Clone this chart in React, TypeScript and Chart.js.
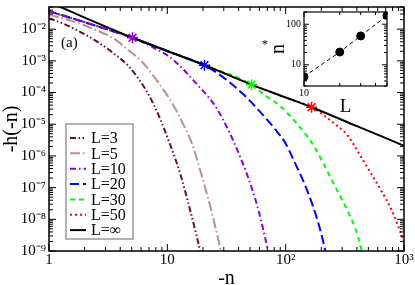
import React, { useEffect, useRef } from "react";
import { Chart, registerables } from "chart.js";

Chart.register(...registerables);

const FONT = "'Liberation Serif', 'Times New Roman', Times, serif";

// ---- main plot ticks ----
const xTickValues = [1, 10, 100, 1000];
const xTickLabels = ["1", "10", "10²", "10³"];
const yTickValues = [1e-9, 1e-8, 1e-7, 1e-6, 1e-5, 1e-4, 1e-3, 1e-2];
const yTickLabels = ["10⁻⁹", "10⁻⁸", "10⁻⁷", "10⁻⁶", "10⁻⁵", "10⁻⁴", "10⁻³", "10⁻²"];

// ---- series (n, h) ----
const seriesLabels = ["L=3", "L=5", "L=10", "L=20", "L=30", "L=50", "L=∞"];

const nL3 = [1, 1.379, 1.776, 2.473, 3.442, 4.7, 5.71, 6.94, 7.64, 8.43, 9.29, 10.44, 12.93, 15.11, 17.31, 18.9, 19.5];
const hL3 = [0.0222, 0.01396, 8.79e-3, 4.33e-3, 1.84e-3, 6.8e-4, 2.7e-4, 8.67e-5, 4.27e-5, 1.95e-5, 8.0e-6, 2.57e-6, 2.55e-7, 3.03e-8, 4.14e-9, 1.0e-9, 5e-10];

const nL5 = [1, 1.776, 2.473, 3.44, 4.84, 5.94, 7.21, 8.76, 11.0, 13.2, 16.0, 19.1, 23.2, 28.2, 29];
const hL5 = [0.0288, 0.0155, 9.44e-3, 5.35e-3, 1.98e-3, 1.04e-3, 4.45e-4, 1.64e-4, 4.6e-5, 1.27e-5, 2.67e-6, 3.2e-7, 2.3e-8, 1.07e-9, 6e-10];

const nL10 = [1, 1.49, 2.243, 3.375, 5.08, 7.21, 11.07, 17.31, 26.06, 33.56, 36.6, 41.6, 47.6, 57.9, 69.6, 71.7];
const hL10 = [0.0365, 0.0233, 0.01445, 8.9e-3, 5.35e-3, 2.92e-3, 1.12e-3, 2.04e-4, 3.21e-5, 5.43e-6, 2.67e-6, 8.55e-7, 2.38e-7, 2.45e-8, 1.43e-9, 8.7e-10];

const nL20 = [1, 1.49, 2.243, 3.375, 5.08, 10, 20.6, 27.1, 43.2, 59.0, 82.1, 99.8, 116.7, 153.1, 186.1, 211.2, 217.4];
const hL20 = [0.0365, 0.0233, 0.01445, 8.9e-3, 5.35e-3, 2.04e-3, 7.2e-4, 3.85e-4, 9.31e-5, 2.78e-5, 6.71e-6, 2.48e-6, 7.41e-7, 7.64e-8, 9.06e-9, 1.53e-9, 9.3e-10];

const nL30 = [1, 1.49, 2.243, 3.375, 5.08, 10, 20.6, 51.5, 63.8, 92.3, 116.7, 141.7, 165.6, 205, 259, 333.6, 390, 429.7, 442.4];
const hL30 = [0.0365, 0.0233, 0.01445, 8.9e-3, 5.35e-3, 2.04e-3, 7.3e-4, 1.76e-4, 9.31e-5, 3.44e-5, 1.37e-5, 5.82e-6, 2.67e-6, 6.44e-7, 1.17e-7, 1.84e-8, 4.78e-9, 1.43e-9, 8.7e-10];

const nL50 = [1, 1.49, 2.243, 3.375, 5.08, 10, 20.6, 51.5, 100, 165.6, 254, 333.6, 429.7, 522, 646.6, 785.7, 883, 1012];
const hL50 = [0.0365, 0.0233, 0.01445, 8.9e-3, 5.35e-3, 2.04e-3, 7.3e-4, 1.77e-4, 6.9e-5, 3.4e-5, 1.1e-5, 4.39e-6, 9.86e-7, 2.94e-7, 7.64e-8, 1.98e-8, 6.8e-9, 1.64e-9];

const nInf = [1, 1.25, 2, 5.08, 10, 20.6, 51.5, 100, 165.6, 400, 1000];
const hInf = [0.072, 0.05, 0.0231, 5.35e-3, 2.04e-3, 7.3e-4, 1.77e-4, 6.98e-5, 3.44e-5, 8.7e-6, 2.1e-6];

// crossover points n* on the L=∞ curve (stars)
const nStar = [5.08, 20.6, 51.5, 165.6];
const hStar = [5.35e-3, 7.3e-4, 1.77e-4, 3.44e-5];

// ---- inset: n* versus L ----
const insetL = [10, 20, 30, 50];
const insetNStar = [5.1, 20.6, 51.5, 163];
const insetXTickValues = [10];
const insetXTickLabels = ["10"];
const insetYTickValues = [10, 100];
const insetYTickLabels = ["10", "100"];

// ---- styles ----
const seriesColors = ["#670748", "#bc8f8f", "#9400d3", "#0000ff", "#00ff00", "#ff0000", "#000000"];
const seriesDashes = [
  [6, 2.5, 1.5, 2.5, 1.5, 2.5],
  [10, 3, 1.5, 3],
  [6, 3, 1.5, 3],
  [9, 4],
  [5, 4],
  [2, 3],
  [],
];
const starColors = ["#9400d3", "#0000ff", "#00ff00", "#ff0000"];

function pts(xs: number[], ys: number[]) {
  return xs.map((x, i) => ({ x, y: ys[i] }));
}

function logMarks(min: number, max: number) {
  const out: { v: number; major: boolean }[] = [];
  const e0 = Math.floor(Math.log10(min));
  const e1 = Math.ceil(Math.log10(max));
  for (let e = e0; e <= e1; e++) {
    for (let m = 1; m < 10; m++) {
      const v = m * Math.pow(10, e);
      if (v >= min * 0.9999 && v <= max * 1.0001) out.push({ v, major: m === 1 });
    }
  }
  return out;
}

const frameTicks = {
  id: "frameTicks",
  afterDraw(chart: any, _args: any, opts: any) {
    const { ctx, chartArea: a, scales } = chart;
    ctx.save();
    ctx.strokeStyle = "#000";
    ctx.lineWidth = 1;
    const seg = (x1: number, y1: number, x2: number, y2: number) => {
      ctx.beginPath();
      ctx.moveTo(x1, y1);
      ctx.lineTo(x2, y2);
      ctx.stroke();
    };
    for (const t of logMarks(scales.x.min, scales.x.max)) {
      const px = scales.x.getPixelForValue(t.v);
      const len = t.major ? opts.major : opts.minor;
      seg(px, a.bottom, px, a.bottom - len);
      if (opts.mirror) seg(px, a.top, px, a.top + len);
    }
    for (const t of logMarks(scales.y.min, scales.y.max)) {
      const py = scales.y.getPixelForValue(t.v);
      const len = t.major ? opts.major : opts.minor;
      seg(a.left, py, a.left + len, py);
      if (opts.mirror) seg(a.right, py, a.right - len, py);
    }
    ctx.lineWidth = opts.frame;
    ctx.strokeRect(a.left, a.top, a.right - a.left, a.bottom - a.top);
    ctx.restore();
  },
};

const legendBox = {
  id: "legendBox",
  afterDraw(chart: any) {
    const ctx = chart.ctx;
    ctx.save();
    ctx.fillStyle = "#fff";
    ctx.fillRect(66, 124, 67, 115);
    ctx.strokeStyle = "#999";
    ctx.lineWidth = 1.5;
    ctx.strokeRect(66, 124, 67, 115);
    chart.data.datasets.slice(0, 7).forEach((ds: any, i: number) => {
      const y = 138 + i * 15.35;
      ctx.strokeStyle = ds.borderColor;
      ctx.lineWidth = ds.borderWidth;
      ctx.setLineDash(ds.borderDash || []);
      ctx.beginPath();
      ctx.moveTo(70, y);
      ctx.lineTo(86, y);
      ctx.stroke();
      ctx.setLineDash([]);
      ctx.fillStyle = "#000";
      ctx.font = `16px ${FONT}`;
      ctx.textBaseline = "middle";
      ctx.textAlign = "left";
      ctx.fillText(ds.label, 91, y + 1);
    });
    ctx.font = `15px ${FONT}`;
    ctx.fillStyle = "#000";
    ctx.textBaseline = "middle";
    ctx.fillText("(a)", 61, 43);
    ctx.restore();
  },
};

const insetStar = {
  id: "insetStar",
  afterDraw(chart: any) {
    const ctx = chart.ctx;
    ctx.save();
    ctx.font = `12px ${FONT}`;
    ctx.fillStyle = "#000";
    ctx.textAlign = "center";
    ctx.textBaseline = "middle";
    ctx.fillText("*", 10, 45);
    ctx.restore();
  },
};

export default function App() {
  const mainRef = useRef<HTMLCanvasElement>(null);
  const insetRef = useRef<HTMLCanvasElement>(null);

  useEffect(() => {
    const lineSets = [nL3, nL5, nL10, nL20, nL30, nL50, nInf].map((ns, i) => ({
      type: "scatter" as const,
      label: seriesLabels[i],
      data: pts(ns, [hL3, hL5, hL10, hL20, hL30, hL50, hInf][i]),
      showLine: true,
      borderColor: seriesColors[i],
      backgroundColor: seriesColors[i],
      borderWidth: 2,
      borderDash: seriesDashes[i],
      pointRadius: 0,
      cubicInterpolationMode: "monotone" as const,
      order: i === 6 ? 1 : 2,
    }));
    const starSet = {
      type: "scatter" as const,
      label: "n*",
      data: pts(nStar, hStar),
      showLine: false,
      pointStyle: "star",
      pointRadius: 5.5,
      pointBorderWidth: 1.5,
      pointBorderColor: starColors,
      pointBackgroundColor: starColors,
      borderColor: starColors,
      order: 0,
    };

    const tickFont = { family: FONT, size: 15 };
    const main = new Chart(mainRef.current!, {
      type: "scatter",
      data: { datasets: [...lineSets, starSet] as any },
      options: {
        animation: false,
        responsive: false,
        layout: { padding: { top: 2, right: 11, left: 0, bottom: 0 } },
        plugins: {
          legend: { display: false },
          tooltip: { enabled: false },
          frameTicks: { major: 7, minor: 4, mirror: true, frame: 1.5 },
        } as any,
        scales: {
          x: {
            type: "logarithmic",
            min: 1,
            max: 1000,
            afterBuildTicks: (s: any) => {
              s.ticks = xTickValues.map((v) => ({ value: v }));
            },
            afterFit: (s: any) => {
              s.height = 34;
              s.paddingLeft = 0;
              s.paddingRight = 0;
            },
            grid: { display: false, drawTicks: false },
            border: { display: false },
            ticks: {
              autoSkip: false,
              maxRotation: 0,
              padding: 0,
              color: "#000",
              font: tickFont,
              callback: (_v: any, i: number) => xTickLabels[i],
            },
            title: {
              display: true,
              text: "-n",
              color: "#000",
              font: { family: FONT, size: 20 },
              padding: { top: 0, bottom: -6 },
            },
          },
          y: {
            type: "logarithmic",
            min: 1e-9,
            max: 0.05,
            afterBuildTicks: (s: any) => {
              s.ticks = yTickValues.map((v) => ({ value: v }));
            },
            afterFit: (s: any) => {
              s.width = 49;
              s.paddingTop = 0;
              s.paddingBottom = 0;
            },
            grid: { display: false, drawTicks: false },
            border: { display: false },
            ticks: {
              autoSkip: false,
              padding: 3,
              color: "#000",
              font: tickFont,
              callback: (_v: any, i: number) => yTickLabels[i],
            },
            title: {
              display: true,
              text: "-h(-n)",
              color: "#000",
              font: { family: FONT, size: 20 },
              padding: { top: 0, bottom: 0 },
            },
          },
        },
      } as any,
      plugins: [frameTicks, legendBox],
    });

    const inset = new Chart(insetRef.current!, {
      type: "scatter",
      data: {
        datasets: [
          {
            label: "n* vs L",
            data: pts(insetL, insetNStar),
            showLine: true,
            borderColor: "#000",
            borderWidth: 1,
            borderDash: [4, 3],
            pointRadius: 4,
            pointBackgroundColor: "#000",
            pointBorderColor: "#000",
          },
        ],
      },
      options: {
        animation: false,
        responsive: false,
        layout: { padding: { top: 12, right: 18, left: 0, bottom: 0 } },
        plugins: {
          legend: { display: false },
          tooltip: { enabled: false },
          frameTicks: { major: 5, minor: 3, mirror: true, frame: 1.2 },
        } as any,
        scales: {
          x: {
            type: "logarithmic",
            min: 10,
            max: 50,
            afterBuildTicks: (s: any) => {
              s.ticks = insetXTickValues.map((v) => ({ value: v }));
            },
            afterFit: (s: any) => {
              s.height = 34;
              s.paddingLeft = 0;
              s.paddingRight = 0;
            },
            grid: { display: false, drawTicks: false },
            border: { display: false },
            ticks: {
              autoSkip: false,
              maxRotation: 0,
              padding: 1,
              color: "#000",
              font: { family: FONT, size: 10 },
              callback: (_v: any, i: number) => insetXTickLabels[i],
            },
            title: {
              display: true,
              text: "L",
              color: "#000",
              font: { family: FONT, size: 19 },
              padding: { top: 0, bottom: 2 },
            },
          },
          y: {
            type: "logarithmic",
            min: 3,
            max: 200,
            afterBuildTicks: (s: any) => {
              s.ticks = insetYTickValues.map((v) => ({ value: v }));
            },
            afterFit: (s: any) => {
              s.width = 49;
              s.paddingTop = 0;
              s.paddingBottom = 0;
            },
            grid: { display: false, drawTicks: false },
            border: { display: false },
            ticks: {
              autoSkip: false,
              padding: 3,
              color: "#000",
              font: { family: FONT, size: 10 },
              callback: (_v: any, i: number) => insetYTickLabels[i],
            },
            title: {
              display: true,
              text: "n",
              color: "#000",
              font: { family: FONT, size: 20 },
              padding: { top: 12, bottom: 0 },
            },
          },
        },
      } as any,
      plugins: [frameTicks, insetStar],
    });

    return () => {
      main.destroy();
      inset.destroy();
    };
  }, []);

  return (
    <div style={{ position: "fixed", left: 0, top: 0, width: 415, height: 285, background: "#fff" }}>
      <canvas ref={mainRef} width={415} height={285} style={{ position: "absolute", left: 0, top: 0 }} />
      <canvas ref={insetRef} width={150} height={120} style={{ position: "absolute", left: 255, top: 0 }} />
    </div>
  );
}
